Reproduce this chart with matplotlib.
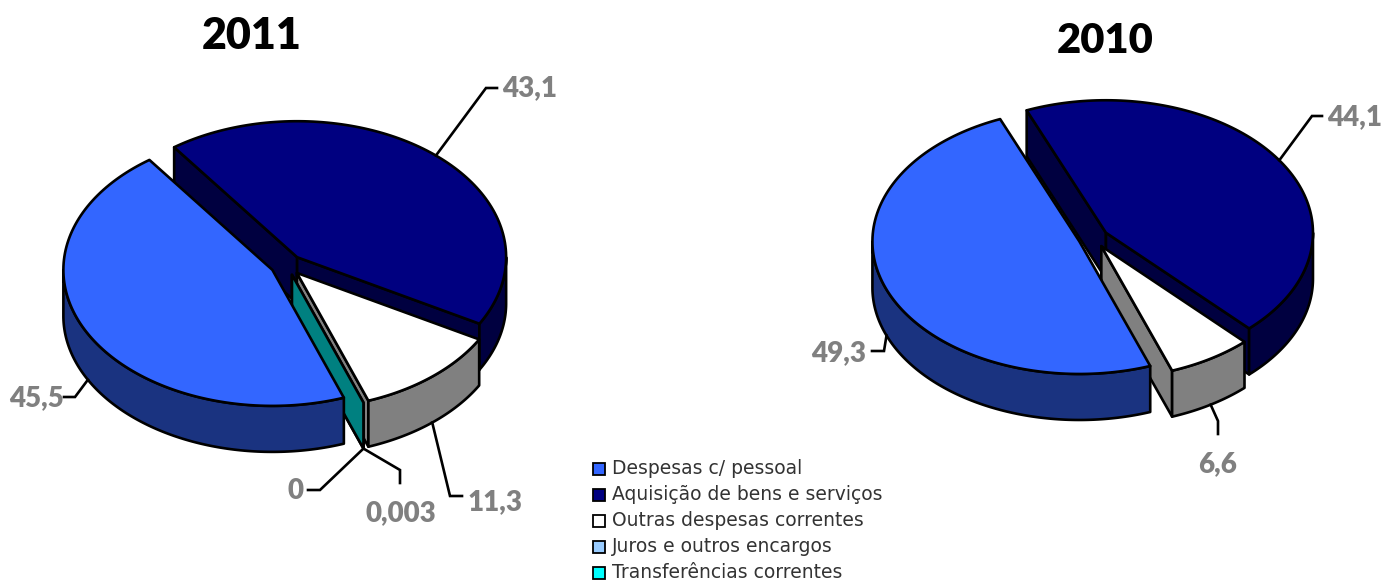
import numpy as np
import matplotlib
matplotlib.use('Agg')
from matplotlib import pyplot as plt
from matplotlib.colors import to_rgb
from matplotlib.patches import Polygon, Rectangle

categories = ['Despesas c/ pessoal', 'Aquisição de bens e serviços',
              'Outras despesas correntes', 'Juros e outros encargos',
              'Transferências correntes']
colors = ['#3366FF', '#000080', '#FFFFFF', '#99CCFF', '#00FFFF']

values_2011 = [45.5, 43.1, 11.3, 0.003, 0]
labels_2011 = ['45,5', '43,1', '11,3', '0,003', '0']
values_2010 = [49.3, 44.1, 6.6]
labels_2010 = ['49,3', '44,1', '6,6']

START_ANGLE = 290.0
DEPTH = 46
LW = 1.9


def slice_angles(values):
    '''Start and end angle of each slice, running clockwise'''
    fracs = np.array(values, dtype=float) / np.sum(values)
    ends = np.cumsum(fracs) * 360.0
    starts = np.concatenate(([0.0], ends[:-1]))
    return START_ANGLE - starts, START_ANGLE - ends


def arc(center, rx, ry, a0, a1, n=120):
    t = np.radians(np.linspace(a0, a1, n))
    return np.column_stack((center[0] + rx * np.cos(t),
                            center[1] - ry * np.sin(t)))


def side(color):
    return tuple(c * 0.5 for c in to_rgb(color))


def add_poly(ax, pts, color):
    ax.add_patch(Polygon(pts, closed=True, facecolor=color, edgecolor='black',
                         linewidth=LW, joinstyle='round'))


def draw_slice(ax, center, rx, ry, a_high, a_low, color):
    dark = side(color)
    # cut faces that turn towards the viewer
    for ang, normal in ((a_high, a_high + 90), (a_low, a_low - 90)):
        if np.sin(np.radians(normal)) < 0:
            edge = arc(center, rx, ry, ang, ang, 1)[0]
            add_poly(ax, [center, edge, edge + [0, DEPTH],
                          np.array(center) + [0, DEPTH]], dark)
    # outer wall, only the front half of the rim shows
    for k in (-1, 0):
        lo = max(a_low, 180 + 360 * k)
        hi = min(a_high, 360 + 360 * k)
        if hi > lo:
            rim = arc(center, rx, ry, lo, hi)
            add_poly(ax, np.vstack((rim, rim[::-1] + [0, DEPTH])), dark)
    if a_high - a_low > 0.5:
        add_poly(ax, np.vstack(([center], arc(center, rx, ry, a_low, a_high))),
                 color)


def draw_pie(ax, values, labels, center, rx, ry, explode, leaders, label_pos):
    highs, lows = slice_angles(values)
    mids = np.radians((highs + lows) / 2.0)
    centers = [(center[0] + explode * np.cos(m),
                center[1] - explode * ry / rx * np.sin(m)) for m in mids]
    # first slice sits in front of the others
    order = list(range(1, len(values))) + [0]
    for i in order:
        draw_slice(ax, centers[i], rx, ry, highs[i], lows[i], colors[i])

    for i, label in enumerate(labels):
        x = centers[i][0] + rx * np.cos(mids[i])
        y = centers[i][1] - ry * np.sin(mids[i])
        if np.sin(mids[i]) < 0:
            y += DEPTH
        path = [(x, y)] + leaders[i]
        ax.plot([p[0] for p in path], [p[1] for p in path],
                color='black', lw=LW, solid_joinstyle='miter', zorder=5)
        ax.text(label_pos[i][0], label_pos[i][1], label, ha='center',
                va='center', color='#808080', family='Lato', weight='heavy',
                fontsize=20)


fig = plt.figure(figsize=(13.91, 5.81), dpi=100)
ax = fig.add_axes([0, 0, 1, 1])
ax.set_xlim(0, 1391)
ax.set_ylim(581, 0)
ax.axis('off')

draw_pie(ax, values_2011, labels_2011, (286.5, 265), 209, 136, 16,
         [[(75, 397), (64, 397)], [(486, 88), (497, 88)],
          [(450, 496), (462, 496)], [(400, 470), (400, 483)],
          [(320, 490), (308, 490)]],
         [(36, 398), (530, 88), (495, 502), (401, 513), (295, 491)])
draw_pie(ax, values_2010, labels_2010, (1093.4, 238), 207, 132.5, 15,
         [[(884, 351), (872, 351)], [(1312, 116), (1322, 116)],
          [(1218, 421), (1218, 434)]],
         [(839, 353), (1355, 117), (1218, 464)])

ax.text(252, 36, '2011', ha='center', va='center', family='Lato',
        weight='heavy', fontsize=31, color='black')
ax.text(1105, 41, '2010', ha='center', va='center', family='Lato',
        weight='heavy', fontsize=30, color='black')

# legend rows
for i, name in enumerate(categories):
    y = 469 + i * 26
    ax.add_patch(Rectangle((593, y - 6), 12, 12, facecolor=colors[i],
                           edgecolor='black', linewidth=1.3))
    ax.text(612, y + 5, name, ha='left', va='baseline', family='DejaVu Sans',
            fontsize=13.5, color='#333333')

fig.savefig('out.png', dpi=100)
